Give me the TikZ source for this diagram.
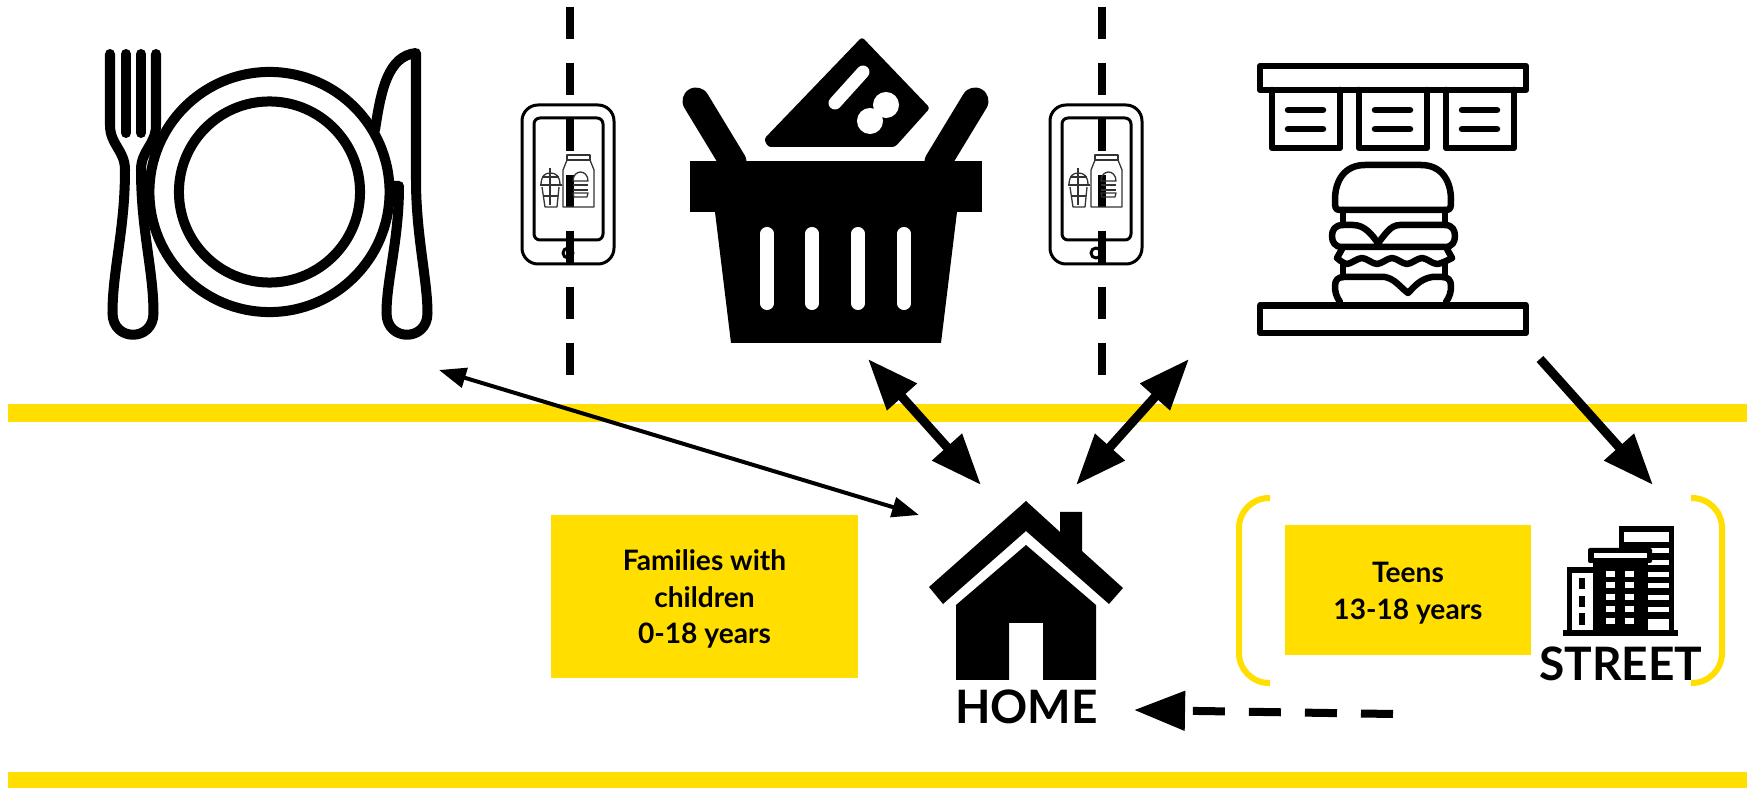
\documentclass[tikz,border=0pt]{standalone}
\usepackage{fontspec}
\setmainfont{Lato}
\usetikzlibrary{arrows.meta}

\definecolor{bandyellow}{HTML}{FFDE00}

\tikzset{
  iconline/.style={draw=black, line width=0.1cm, line cap=round, line join=round},
  menuline/.style={draw=black, line width=0.065cm, line cap=round, line join=round},
  thinline/.style={draw=black, line width=0.03cm, line join=round},
  hairline/.style={draw=black!80, line width=0.013cm, line join=round},
  divider/.style={draw=black, line width=0.075cm, dash pattern=on 0.32cm off 0.24cm},
  slotline/.style={draw=white, line width=0.13cm, line cap=round},
  agebox/.style={fill=bandyellow, inner sep=0pt, align=center, font=\fontsize{8}{10.4}\selectfont\bfseries},
  placelabel/.style={inner sep=0pt, font=\fontsize{13.1}{16}\selectfont\bfseries},
  bracket/.style={draw=bandyellow, line width=0.06cm, rounded corners=0.3cm},
  bigarrow/.style={line width=0.09cm, {Triangle[length=0.51cm,width=0.38cm]}-{Triangle[length=0.51cm,width=0.38cm]}},
  onearrow/.style={line width=0.09cm, -{Triangle[length=0.51cm,width=0.38cm]}},
  dasharrow/.style={line width=0.08cm, -{Triangle[length=0.51cm,width=0.38cm]}, dash pattern=on 0.32cm off 0.24cm},
  thinarrow/.style={line width=0.04cm, {Triangle[length=0.27cm,width=0.2cm]}-{Triangle[length=0.27cm,width=0.2cm]}}
}

\begin{document}
\begin{tikzpicture}[x=0.01cm,y=-0.01cm]
  \useasboundingbox (0,0) rectangle (1756,788);

  % Yellow bands
  \fill[bandyellow] (8,404) rectangle (1747,422);
  \fill[bandyellow] (8,772) rectangle (1747,788);

  % Fork
  \draw[iconline] (110,54) -- (110,125) .. controls (110,145) and (125,150) .. (125,170)
    .. controls (125,230) and (112.5,270) .. (112.5,313) .. controls (112.5,342) and (153.5,342) .. (153.5,313)
    .. controls (153.5,270) and (141,230) .. (141,170) .. controls (141,150) and (156,145) .. (156,125) -- (156,54);
  \draw[iconline] (126,54) -- (126,133); % tine
  \draw[iconline] (141,54) -- (141,133); % tine

  % Plate
  \draw[iconline, line cap=butt] (269.5,192) circle (1.2cm); % rim
  \draw[iconline, line cap=butt] (269.5,192) circle (0.905cm); % well

  % Knife
  \draw[iconline] (375,130) .. controls (381,90) and (388,56) .. (416,53) -- (416,180)
    .. controls (416,235) and (427.5,280) .. (427.5,313) .. controls (427.5,342) and (386.5,342) .. (386.5,313)
    .. controls (386.5,280) and (399,240) .. (399,186) -- (394,186);

  % Dashed dividers
  \coordinate (divtopa) at (570,7);
  \coordinate (divbota) at (570,375);
  \coordinate (divtopb) at (1102,7);
  \coordinate (divbotb) at (1102,375);
  \draw[divider] (divtopa) -- (divbota);
  \draw[divider] (divtopb) -- (divbotb);

  % Phones
  \foreach \x in {568,1096} {
    \begin{scope}[xshift=\x*0.01cm]
      \draw[thinline] (-46,105) [rounded corners=0.16cm] rectangle (46,264); % case
      \draw[thinline] (-34,118) [rounded corners=0.06cm] rectangle (35,240); % screen
      \draw[thinline] (0,253) circle (0.05cm); % button
      % cup
      \draw[hairline] (-28,185) -- (-6,185);
      \draw[hairline] (-27,185) .. controls (-27,176) and (-23,173) .. (-18,173) .. controls (-12,173) and (-8,176) .. (-8,185);
      \draw[hairline] (-26,187) -- (-23,207) -- (-11,207) -- (-9,187);
      \draw[hairline] (-18,168) -- (-18,205);
      \draw[hairline] (-26,177) -- (-9,177);
      \draw[hairline] (-25,196) -- (-10,196);
      % carton
      \draw[hairline] (-1,155) -- (22,155) -- (22,160) -- (-1,160) -- cycle;
      \draw[hairline] (-1,160) -- (-5,170) -- (-5,207) -- (26,207) -- (26,170) -- (22,160);
      % burger on the carton
      \draw[hairline] (5,181) .. controls (5,175) and (9,172) .. (12.5,172) .. controls (16,172) and (20,175) .. (20,181) -- cycle;
      \draw[hairline] (5,185) -- (20,185);
      \draw[hairline] (5,190) -- (20,190);
      \draw[hairline] (5,193) -- (20,193) -- (19,197) -- (6,197) -- cycle;
    \end{scope}
  }

  % Basket
  \draw[black, line width=0.27cm, line cap=round] (696,101) -- (733,162); % left handle
  \draw[black, line width=0.27cm, line cap=round] (975,101) -- (938,162); % right handle
  \fill[black] (690,161) rectangle (982,212); % rim
  \fill[black] (715,212) -- (731,343) -- (941,343) -- (957,212) -- cycle; % body
  \foreach \x in {767,812,858,904}
    \draw[slotline] (\x,233.5) -- (\x,303.5);

  % Ticket in the basket
  \fill[black, rounded corners=0.03cm] (862,37) -- (930,108) -- (895,147) -- (768,147) -- (764,139) -- cycle;
  \draw[slotline] (835,103) -- (863,72); % slot
  \fill[white] (886,105) circle (0.13cm);
  \fill[white] (870,121) circle (0.13cm);

  % Menu bars
  \draw[menuline] (1260,66) rectangle (1526,90); % top bar
  \draw[menuline] (1260,305.5) rectangle (1526,333); % bottom bar
  \foreach \x in {1272,1359,1446} {
    \draw[menuline] (\x,90) -- (\x,148) -- (\x+68,148) -- (\x+68,90); % board
    \draw[menuline] (\x+16,110) -- (\x+51,110);
    \draw[menuline] (\x+16,129) -- (\x+51,129);
  }

  % Burger
  \draw[menuline] (1340,210) .. controls (1335,210) and (1335,207) .. (1335,200)
    .. controls (1335,180) and (1345,165) .. (1365,165) -- (1421,165)
    .. controls (1441,165) and (1451,180) .. (1451,200) .. controls (1451,207) and (1451,210) .. (1446,210) -- cycle; % top bun
  \draw[menuline] (1343,210) -- (1343,225);
  \draw[menuline] (1445,210) -- (1445,225);
  \draw[menuline] (1353,225) -- (1343,225) .. controls (1335,225) and (1332,230) .. (1332,236)
    .. controls (1332,242) and (1335,247) .. (1342,247) -- (1445,247)
    .. controls (1452,247) and (1455,242) .. (1455,236) .. controls (1455,230) and (1452,225) .. (1445,225) -- (1400,225)
    .. controls (1390,225) and (1385,235) .. (1378,243) .. controls (1372,235) and (1365,225) .. (1353,225); % cheese
  \draw[menuline] (1342,249) -- (1337,258);
  \draw[menuline] (1447,249) -- (1452,258);
  \draw[menuline] plot[smooth] coordinates {(1337,258) (1347,264) (1362,258) (1377,264) (1392,258) (1407,264) (1422,258) (1437,264) (1452,258)}; % lettuce
  \draw[menuline] (1343,264) -- (1343,277);
  \draw[menuline] (1445,264) -- (1445,277);
  \draw[menuline] (1340,302) .. controls (1336,296) and (1335,292) .. (1335,286) .. controls (1335,280) and (1338,277) .. (1344,277) -- (1385,277)
    .. controls (1395,279) and (1400,287) .. (1408,293) .. controls (1414,287) and (1420,279) .. (1432,277) -- (1442,277)
    .. controls (1448,277) and (1451,280) .. (1451,286) .. controls (1451,292) and (1450,296) .. (1446,302); % bottom bun

  % Home
  \fill[black] (1026,501) -- (1060,532) -- (1060,512) -- (1082,512) -- (1082,551) -- (1123,588) -- (1109,604) -- (1026,531) -- (943,604) -- (929,587) -- cycle; % roof
  \fill[black] (1026,545) -- (1096,605) -- (1096,680) -- (1043,680) -- (1043,623) -- (1009,623) -- (1009,680) -- (956,680) -- (956,605) -- cycle; % walls
  \node[placelabel] (homelabel) at (1026.5,707) {HOME};

  % Families box
  \node[agebox, minimum width=3.07cm, minimum height=1.63cm] (families) at (704.5,596.5) {\rule{0pt}{0.26cm}Families with\\children\\0-18 years};

  % Teens box
  \node[agebox, minimum width=2.46cm, minimum height=1.30cm] (teens) at (1408,590) {\rule{0pt}{0.27cm}Teens\\13-18 years};

  % Street buildings
  \fill[black] (1619,526) rectangle (1674,632); % tower
  \fill[white] (1624,532) rectangle (1669,542);
  \foreach \y in {548,560,572,583,595,607}
    \fill[white] (1624,\y) rectangle (1669,\y+5.5);
  \fill[white] (1624,619) rectangle (1669,630);
  \fill[black] (1593,560) rectangle (1648,632); % middle block
  \fill[black, rounded corners=0.02cm] (1588,548) rectangle (1652,563); % block cap
  \fill[white] (1594,553) rectangle (1647,558);
  \foreach \y in {571,582,594,606,618} {
    \fill[white] (1606,\y) rectangle (1615,\y+6);
    \fill[white] (1625,\y) rectangle (1634,\y+6);
  }
  \fill[black] (1567,567) rectangle (1593,632); % low block
  \fill[white] (1572,573) rectangle (1593,630);
  \fill[black] (1593,567) rectangle (1596,632);
  \fill[black] (1579,578) rectangle (1585,589);
  \fill[black] (1579,596) rectangle (1585,607);
  \fill[black] (1579,613) rectangle (1585,625);
  \fill[black] (1563,630) rectangle (1678,636); % pavement
  \node[placelabel] (streetlabel) at (1621,664) {STREET};

  % Brackets
  \draw[bracket] (1270,498) -- (1239,498) -- (1239,683) -- (1270,683);
  \draw[bracket] (1691,498) -- (1722,498) -- (1722,683) -- (1691,683);

  % Arrows
  \coordinate (platetip) at (439,370);
  \coordinate (hometipa) at (919,515);
  \coordinate (baskettip) at (868,359);
  \coordinate (hometipb) at (981,485);
  \coordinate (menutip) at (1189,359);
  \coordinate (hometipc) at (1076,485);
  \coordinate (burgerend) at (1540,359);
  \coordinate (streettip) at (1653,485);
  \coordinate (streetend) at (1393,714);
  \coordinate (hometipd) at (1134,710);
  \draw[thinarrow] (platetip) -- (hometipa);
  \draw[bigarrow] (baskettip) -- (hometipb);
  \draw[bigarrow] (menutip) -- (hometipc);
  \draw[onearrow] (burgerend) -- (streettip);
  \draw[dasharrow] (streetend) -- (hometipd);
\end{tikzpicture}
\end{document}
